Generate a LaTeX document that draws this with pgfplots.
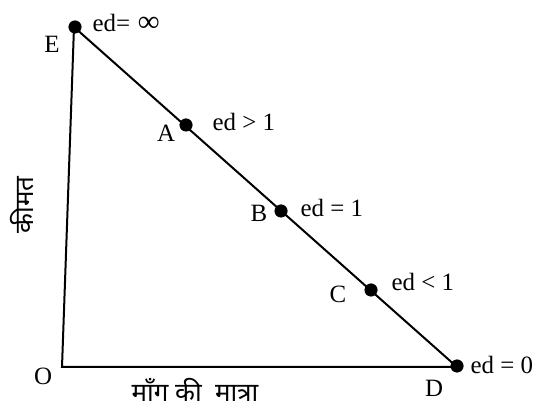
\documentclass[border=0pt]{standalone}
\usepackage{pgfplots}
\pgfplotsset{compat=1.18}
\usepackage{fontspec}
\setmainfont{Liberation Serif}
\newfontfamily\hindi[Script=Devanagari]{Noto Sans}
\newcommand\lbl{\fontsize{25}{30}\selectfont}
\begin{document}
\begin{tikzpicture}
\begin{axis}[scale only axis, width=537bp, height=409bp,
  xmin=0, xmax=537, ymin=0, ymax=409,
  axis lines=none, clip=false]
\addplot[black, line width=2bp] coordinates {(74,382) (62,42) (457,42)};
\addplot[black, line width=2bp] coordinates {(74,382) (457,42)};
\addplot[only marks, mark=*, mark size=6.3bp, black] coordinates {(75,382) (186,284) (281,198) (371,119) (457,43)};
\node at (axis cs:52,365) {\lbl E};
\node[anchor=west] at (axis cs:89,386) {\lbl ed=\hspace{8bp}{\fontsize{30}{30}\selectfont\bfseries ∞}};
\node at (axis cs:166,276) {\lbl A};
\node[anchor=west] at (axis cs:209,287) {\lbl ed > 1};
\node at (axis cs:259,196) {\lbl B};
\node[anchor=west] at (axis cs:297,201) {\lbl ed = 1};
\node at (axis cs:338,115) {\lbl C};
\node[anchor=west] at (axis cs:388,127) {\lbl ed < 1};
\node at (axis cs:434,21) {\lbl D};
\node[anchor=west] at (axis cs:467,44) {\lbl ed = 0};
\node at (axis cs:43,33) {\lbl O};
\node at (axis cs:195,19) {\hindi\fontsize{26}{30}\selectfont माँग की~~मात्रा};
\node[rotate=90] at (axis cs:22,204) {\hindi\fontsize{26}{30}\selectfont कीमत};
\end{axis}
\pgfresetboundingbox
\path (0,0) rectangle (537bp,409bp);
\end{tikzpicture}
\end{document}
